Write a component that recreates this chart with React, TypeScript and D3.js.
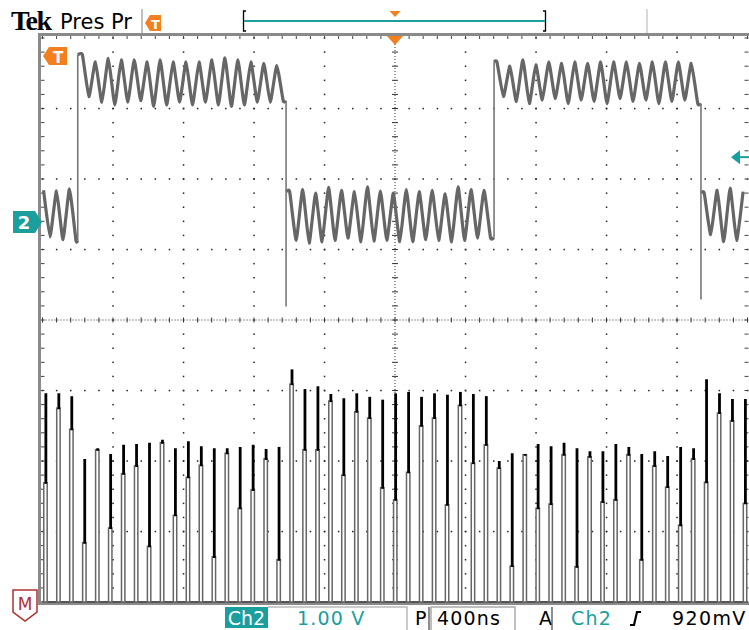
import React from 'react';
import * as d3 from 'd3';

const W = 749;
const H = 630;
const X0 = 42.5;
const X1 = 747.5;
const Y0 = 38;
const Y1 = 602;

// Ch2: one ripple crest and one ripple trough per cycle (V)
const ripplePeaks = [
  0.45, 0.44, 0.47,
  2.37, 2.27, 2.32, 2.30, 2.30, 2.27, 2.30, 2.27, 2.27, 2.27, 2.30, 2.33, 2.30, 2.27, 2.25, 2.22,
  0.43, 0.46, 0.41, 0.49, 0.45, 0.43, 0.50, 0.44, 0.41, 0.46, 0.43, 0.45, 0.40, 0.50, 0.46, 0.45,
  2.27, 2.21, 2.30, 2.23, 2.27, 2.25, 2.27, 2.25, 2.27, 2.27, 2.27, 2.25, 2.27, 2.27, 2.27, 2.25,
  0.41, 0.45, 0.48, 0.43,
];
const rippleTroughs = [
  -0.21, -0.25, -0.26,
  1.78, 1.70, 1.66, 1.70, 1.72, 1.64, 1.66, 1.70, 1.66, 1.70, 1.66, 1.64, 1.66, 1.70, 1.70, 1.72,
  -0.26, -0.30, -0.28, -0.26, -0.23, -0.28, -0.27, -0.26, -0.28, -0.28, -0.25, -0.26, -0.28, -0.26, -0.23, -0.22,
  1.78, 1.71, 1.68, 1.73, 1.75, 1.68, 1.73, 1.71, 1.68, 1.75, 1.71, 1.73, 1.68, 1.71, 1.73, 1.68,
  -0.18, -0.28, -0.26, -0.28,
];
const sampleStart = -1994; // ns
const samplePeriod = 73.5; // ns
const edgeTimes = [-1800, -618, 562, 1736];
const edgeUndershoot = [null, -1.2, null, -1.1];
const ch2Ground = 1.39; // divisions above centre
const trigLevel = 0.92; // V

// Math trace: pulse crest and the point where the thick falling edge ends (div above bottom)
const pulsePeaks = [
  2.96, 2.96, 2.92, 2.03, 2.18, 2.10, 2.23, 2.24, 2.26, 2.30, 2.18, 2.28, 2.21, 2.18, 2.18, 2.20, 2.23, 2.17, 2.20,
  3.30, 3.02, 3.06, 2.95, 2.89, 2.96, 2.91, 2.87, 2.96, 2.98, 2.91, 2.96, 2.94, 2.98, 2.95, 2.92,
  2.00, 2.11, 2.10, 2.24, 2.21, 2.26, 2.18, 2.14, 2.14, 2.24, 2.20, 2.10, 2.14, 2.07, 2.20, 2.18,
  3.16, 2.96, 2.88, 2.88,
];
const pulseKnees = [
  1.69, 2.75, 2.45, 0.84, 2.16, 1.05, 1.82, 1.93, 0.79, 2.26, 1.23, 1.77, 1.94, 0.64, 2.11, 1.33, 1.59, 2.03, 0.60,
  3.09, 2.16, 2.16, 2.85, 1.80, 2.70, 2.61, 1.62, 1.45, 1.84, 2.50, 2.61, 1.38, 2.79, 1.97, 2.23,
  1.90, 0.51, 2.09, 1.33, 1.39, 2.09, 0.50, 2.06, 1.42, 1.45, 2.09, 0.60, 1.93, 1.63, 1.09, 2.03,
  1.70, 2.68, 2.57, 1.40,
];

const TEAL = '#1a9e9e';
const ORANGE = '#f47f1f';
const TRACE = '#666';

const gx = d3.scaleLinear().domain([-5, 5]).range([X0, X1]);
const gy = d3.scaleLinear().domain([-4, 4]).range([Y1, Y0]);
const x = d3.scaleLinear().domain([-2000, 2000]).range([X0, X1]);
const yCh2 = (v: number) => gy(v + ch2Ground);
const yMath = (v: number) => gy(v - 4);

function Graticule() {
  const dots: JSX.Element[] = [];
  const minors = d3.range(-25, 26).map(i => i / 5);
  const minorsY = d3.range(-20, 21).map(i => i / 5);
  d3.range(-4, 5).filter(i => i !== 0).forEach(i => {
    minorsY.forEach(m => dots.push(<rect key={`v${i}_${m}`} x={gx(i) - 0.7} y={gy(m) - 0.7} width={1.5} height={1.5} fill="#222" />));
  });
  d3.range(-3, 4).filter(j => j !== 0).forEach(j => {
    minors.forEach(m => dots.push(<rect key={`h${j}_${m}`} x={gx(m) - 0.7} y={gy(j) - 0.7} width={1.5} height={1.5} fill="#222" />));
  });
  const ticks: JSX.Element[] = [];
  minors.forEach(m => {
    ticks.push(<line key={`ct${m}`} x1={gx(m)} x2={gx(m)} y1={gy(0) - 2.5} y2={gy(0) + 2.5} stroke="#333" />);
    ticks.push(<line key={`tt${m}`} x1={gx(m)} x2={gx(m)} y1={Y0 - 3} y2={Y0 + 1} stroke="#444" />);
    ticks.push(<line key={`bt${m}`} x1={gx(m)} x2={gx(m)} y1={Y1 - 1} y2={Y1 + 2} stroke="#444" />);
  });
  minorsY.forEach(m => {
    ticks.push(<line key={`cv${m}`} x1={gx(0) - 3} x2={gx(0) + 3} y1={gy(m)} y2={gy(m)} stroke="#333" />);
    ticks.push(<line key={`lt${m}`} x1={X0 - 2} x2={X0 + 2} y1={gy(m)} y2={gy(m)} stroke="#444" />);
    ticks.push(<line key={`rt${m}`} x1={X1 - 3} x2={X1 + 1} y1={gy(m)} y2={gy(m)} stroke="#444" />);
  });
  return (
    <g>
      {dots}
      <line x1={X0} x2={X1} y1={gy(0)} y2={gy(0)} stroke="#333" strokeDasharray="1 2" />
      <line x1={gx(0)} x2={gx(0)} y1={Y0} y2={Y1} stroke="#333" strokeDasharray="1 2" />
      {ticks}
      <rect x={39.5} y={34.5} width={711} height={569} fill="none" stroke="#8a8a8a" strokeWidth={3} />
    </g>
  );
}

function Ch2Trace() {
  const samples: { t: number; v: number }[] = [];
  ripplePeaks.forEach((p, k) => {
    const t = sampleStart + k * samplePeriod;
    samples.push({ t, v: p });
    samples.push({ t: t + samplePeriod / 2, v: rippleTroughs[k] });
  });
  const bounds = [-2000, ...edgeTimes, 2000];
  const line = d3.line<{ t: number; v: number }>()
    .x(d => x(d.t))
    .y(d => yCh2(d.v))
    .curve(d3.curveCardinal.tension(0.55));
  const segs = d3.range(bounds.length - 1).map(i => {
    const pts = samples.filter(s => s.t > bounds[i] && s.t < bounds[i + 1]);
    const out = [...pts];
    if (i > 0) out.unshift({ t: bounds[i] + 1, v: pts[0].v });
    if (i < bounds.length - 2) out.push({ t: bounds[i + 1] - 1, v: pts[pts.length - 1].v });
    return out;
  });
  const edges = edgeTimes.map((te, i) => {
    const before = segs[i][segs[i].length - 1].v;
    const after = segs[i + 1][0].v;
    const lo = edgeUndershoot[i];
    const vs = lo === null ? [before, after] : [before, lo, after];
    return { te, top: d3.max(vs)!, bot: d3.min(vs)! };
  });
  return (
    <g clipPath="url(#plotClip)">
      {segs.map((s, i) => (
        <path key={i} d={line(s)!} fill="none" stroke={TRACE} strokeWidth={3.2} strokeLinejoin="round" />
      ))}
      {edges.map((e, i) => (
        <line key={i} x1={x(e.te)} x2={x(e.te)} y1={yCh2(e.top)} y2={yCh2(e.bot)} stroke="#777" strokeWidth={1.6} />
      ))}
    </g>
  );
}

function MathTrace() {
  return (
    <g clipPath="url(#plotClip)">
      <line x1={X0} x2={X1} y1={yMath(0)} y2={yMath(0)} stroke="#555" strokeWidth={2} />
      {pulsePeaks.map((p, j) => {
        const xc = x(sampleStart + 12 + j * samplePeriod);
        const yk = yMath(pulseKnees[j]);
        const y0 = yMath(0);
        return (
          <g key={j}>
            <rect x={xc - 1.9} y={yk} width={3.4} height={y0 - yk} fill="#fff" stroke={TRACE} strokeWidth={1.5} />
            <line x1={xc + 0.2} x2={xc + 0.2} y1={yMath(p)} y2={yk + 1} stroke="#000" strokeWidth={2.8} />
          </g>
        );
      })}
    </g>
  );
}

function Markers() {
  const yg = yCh2(0);
  const yt = yCh2(trigLevel);
  return (
    <g>
      {/* ch2 ground marker */}
      <path d={`M13,${yg - 11} H35 L42,${yg} L35,${yg + 11} H13 Z`} fill={TEAL} />
      <text x={24} y={yg + 7} fill="#fff" fontFamily="DejaVu Sans" fontWeight="bold" fontSize={18} textAnchor="middle">2</text>
      {/* trigger level */}
      <path d={`M731,${yt} L740,${yt - 7} L740,${yt + 7} Z`} fill={TEAL} />
      <line x1={738} x2={749} y1={yt} y2={yt} stroke={TEAL} strokeWidth={2} />
      {/* trigger marker in plot */}
      <path d="M43,56 L49,47 H67 V65 H49 Z" fill={ORANGE} />
      <text x={58} y={63} fill="#fff" fontFamily="DejaVu Sans" fontWeight="bold" fontSize={15} textAnchor="middle">T</text>
      {/* trigger position */}
      <path d={`M${gx(0) - 8},36 H${gx(0) + 8} L${gx(0)},45 Z`} fill={ORANGE} />
      {/* math marker */}
      <path d="M13,590 H37 V612 L25,621 L13,612 Z" fill="#fff" stroke="#b03030" strokeWidth={1.5} />
      <text x={25} y={610} fill="#b03030" fontFamily="DejaVu Sans" fontSize={17} textAnchor="middle">M</text>
    </g>
  );
}

function TopBar() {
  return (
    <g>
      <text x={11} y={30} fontFamily="Liberation Serif" fontWeight="bold" fontSize={28} letterSpacing={-1.5} fill="#000">Tek</text>
      <text x={60} y={29} fontFamily="DejaVu Sans" fontSize={21} fill="#000">Pres Pr</text>
      <line x1={142} x2={142} y1={9} y2={33} stroke="#aaa" strokeWidth={1.5} />
      <path d="M145,23 L150,15 H161 V31 H150 Z" fill={ORANGE} />
      <text x={155.5} y={29} fill="#fff" fontFamily="DejaVu Sans" fontWeight="bold" fontSize={13} textAnchor="middle">T</text>
      <path d="M246,11 H243.5 V31 H246" fill="none" stroke="#000" strokeWidth={1.3} />
      <path d="M543,11 H545.5 V31 H543" fill="none" stroke="#000" strokeWidth={1.3} />
      <line x1={244} x2={545} y1={21} y2={21} stroke={TEAL} strokeWidth={2} />
      <path d={`M${gx(0) - 5.5},11 H${gx(0) + 5.5} L${gx(0)},17 Z`} fill={ORANGE} />
      <line x1={647} x2={647} y1={9} y2={33} stroke="#ccc" strokeWidth={1.5} />
    </g>
  );
}

function BottomBar() {
  const f = { fontFamily: 'DejaVu Sans', fontSize: 19 };
  return (
    <g>
      <rect x={225} y={607} width={43} height={21} fill={TEAL} />
      <text x={246.5} y={625} textAnchor="middle" fill="#fff" {...f}>Ch2</text>
      <path d="M268,607 H407 V630" fill="none" stroke="#bbb" strokeWidth={1.5} />
      <text x={297} y={625} fill={TEAL} letterSpacing={1.2} {...f}>1.00 V</text>
      <text x={415} y={625} fill="#000" {...f}>P</text>
      <line x1={429} x2={429} y1={607} y2={630} stroke="#444" strokeWidth={1.2} />
      <path d="M431,630 V607 H515 V630" fill="none" stroke="#aaa" strokeWidth={1.5} />
      <text x={437} y={625} fill="#000" letterSpacing={1.2} {...f}>400ns</text>
      <text x={539} y={625} fill="#000" {...f}>A</text>
      <line x1={552} x2={552} y1={607} y2={630} stroke="#444" strokeWidth={1.2} />
      <text x={571} y={625} fill={TEAL} letterSpacing={1.2} {...f}>Ch2</text>
      <path d="M630,625 H634 L637,612 H641" fill="none" stroke="#000" strokeWidth={2.2} />
      <text x={672} y={625} fill="#000" letterSpacing={1.4} {...f}>920mV</text>
    </g>
  );
}

export default function App() {
  return (
    <svg width={W} height={H} viewBox={`0 0 ${W} ${H}`} style={{ position: 'absolute', left: 0, top: 0, background: '#fff' }}>
      <defs>
        <clipPath id="plotClip">
          <rect x={X0 - 1} y={Y0 - 2} width={X1 - X0 + 2} height={Y1 - Y0 + 3} />
        </clipPath>
      </defs>
      <rect width={W} height={H} fill="#fff" />
      <TopBar />
      <Graticule />
      <MathTrace />
      <Ch2Trace />
      <Markers />
      <BottomBar />
    </svg>
  );
}
